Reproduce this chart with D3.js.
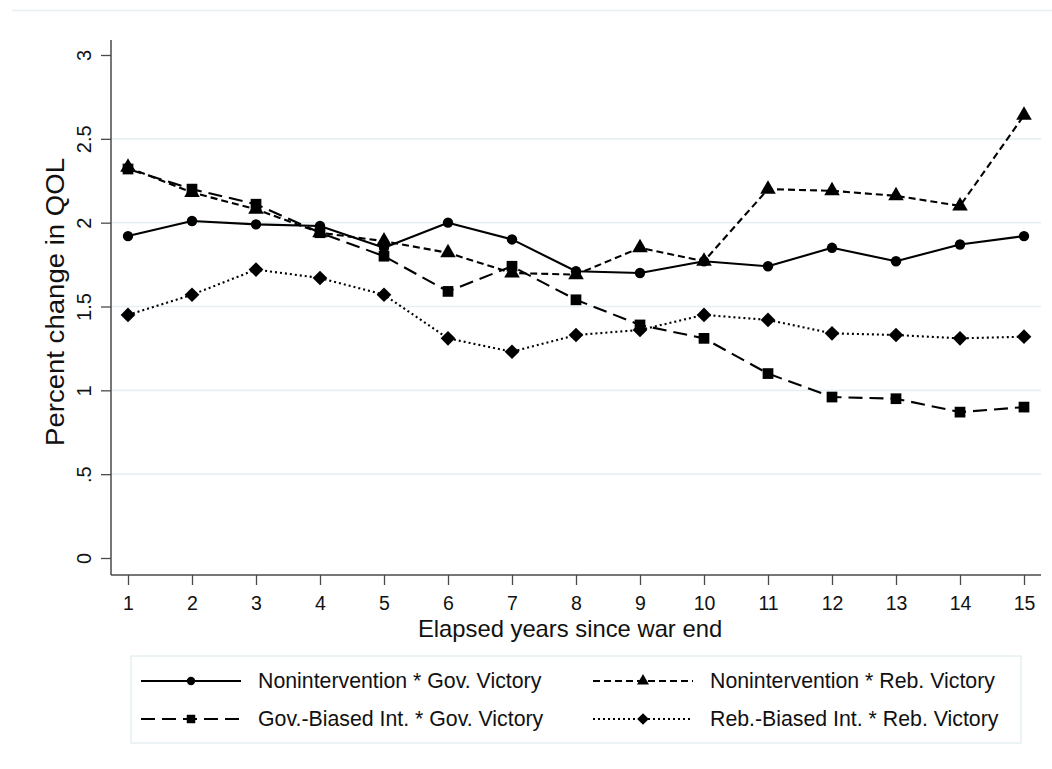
<!DOCTYPE html>
<html>
<head>
<meta charset="utf-8">
<script src="https://cdn.jsdelivr.net/npm/d3@7/dist/d3.min.js"></script>
<style>
  html, body { margin: 0; padding: 0; background: #fff; }
  svg { display: block; font-family: "Liberation Sans", Arial, Helvetica, sans-serif; }
</style>
</head>
<body>
<svg id="chart" width="1052" height="769"></svg>
<script>
// Years elapsed since the end of the war
const years = [1, 2, 3, 4, 5, 6, 7, 8, 9, 10, 11, 12, 13, 14, 15];

// Predicted percent change in quality of life, by intervention type and war outcome
const nonintGov = [1.92, 2.01, 1.99, 1.98, 1.85, 2.00, 1.90, 1.71, 1.70, 1.77, 1.74, 1.85, 1.77, 1.87, 1.92];
const nonintReb = [2.33, 2.18, 2.08, 1.94, 1.89, 1.82, 1.70, 1.69, 1.85, 1.77, 2.20, 2.19, 2.16, 2.10, 2.64];
const govBiasedGov = [2.32, 2.20, 2.11, 1.94, 1.80, 1.59, 1.74, 1.54, 1.39, 1.31, 1.10, 0.96, 0.95, 0.87, 0.90];
const rebBiasedReb = [1.45, 1.57, 1.72, 1.67, 1.57, 1.31, 1.23, 1.33, 1.36, 1.45, 1.42, 1.34, 1.33, 1.31, 1.32];

const seriesNames = [
  "Nonintervention * Gov. Victory",
  "Nonintervention * Reb. Victory",
  "Gov.-Biased Int. * Gov. Victory",
  "Reb.-Biased Int. * Reb. Victory"
];

// Axis ticks
const yTickValues = [0, 0.5, 1, 1.5, 2, 2.5, 3];
const yTickLabels = ["0", ".5", "1", "1.5", "2", "2.5", "3"];
const yGridValues = [0.5, 1, 1.5, 2, 2.5];

const xTitle = "Elapsed years since war end";
const yTitle = "Percent change in QOL";

// ---- drawing ----
const svg = d3.select("#chart");
const ink = "#111";
const axisInk = "#4a4a4a";
const gridInk = "#e6eff1";

const plot = { left: 111, right: 1041, top: 40, bottom: 575 };

const x = d3.scaleLinear().domain([1, 15]).range([128, 1024]);
const y = d3.scaleLinear().domain([0, 3]).range([558, 55]);

// outer region border (top edge)
svg.append("line")
  .attr("x1", 12).attr("x2", 1052).attr("y1", 10.5).attr("y2", 10.5)
  .attr("stroke", gridInk).attr("stroke-width", 1.5);

// horizontal grid
svg.append("g").selectAll("line").data(yGridValues).join("line")
  .attr("x1", plot.left).attr("x2", plot.right)
  .attr("y1", d => y(d)).attr("y2", d => y(d))
  .attr("stroke", gridInk).attr("stroke-width", 1.6);

// y axis
const yAxis = svg.append("g")
  .attr("transform", `translate(${plot.left},0)`)
  .call(d3.axisLeft(y).tickValues(yTickValues)
    .tickFormat((d, i) => yTickLabels[i]).tickSize(10).tickSizeOuter(0));
yAxis.select(".domain").remove();
yAxis.append("line")
  .attr("x1", 0).attr("x2", 0).attr("y1", plot.top).attr("y2", plot.bottom)
  .attr("stroke", axisInk).attr("stroke-width", 1.5);
yAxis.selectAll(".tick line").attr("stroke", axisInk).attr("stroke-width", 1.3);
yAxis.selectAll(".tick text")
  .attr("font-size", 20).attr("fill", ink)
  .attr("font-family", "Liberation Sans, Arial, sans-serif")
  .attr("text-anchor", "middle")
  .attr("dy", null)
  .attr("dominant-baseline", "central")
  .attr("x", null)
  .attr("transform", "translate(-27,0) rotate(-90)");

// x axis
const xAxis = svg.append("g")
  .attr("transform", `translate(0,${plot.bottom})`)
  .call(d3.axisBottom(x).tickValues(years).tickFormat(d3.format("d"))
    .tickSize(10).tickSizeOuter(0));
xAxis.select(".domain").remove();
xAxis.append("line")
  .attr("x1", plot.left).attr("x2", plot.right).attr("y1", 0).attr("y2", 0)
  .attr("stroke", axisInk).attr("stroke-width", 1.5);
xAxis.selectAll(".tick line").attr("stroke", axisInk).attr("stroke-width", 1.3);
xAxis.selectAll(".tick text")
  .attr("font-size", 19.5).attr("fill", ink)
  .attr("font-family", "Liberation Sans, Arial, sans-serif")
  .attr("y", 28).attr("dy", null).attr("dominant-baseline", "central");

// axis titles
svg.append("text")
  .attr("x", 570).attr("y", 628)
  .attr("text-anchor", "middle").attr("dominant-baseline", "central")
  .attr("font-size", 23.8).attr("fill", ink)
  .text(xTitle);

svg.append("text")
  .attr("transform", `translate(55,302) rotate(-90)`)
  .attr("text-anchor", "middle").attr("dominant-baseline", "central")
  .attr("font-size", 25).attr("fill", ink)
  .attr("textLength", 288).attr("lengthAdjust", "spacingAndGlyphs")
  .text(yTitle);

// series styles
const styles = [
  { values: nonintGov,    dash: null,    marker: "circle",   size: 85,  legendSize: 55 },
  { values: nonintReb,    dash: "7,4",   marker: "triangle", size: 105, legendSize: 62 },
  { values: govBiasedGov, dash: "14,7",  marker: "square",   size: 115, legendSize: 72 },
  { values: rebBiasedReb, dash: "2,3",   marker: "diamond",  size: 108, legendSize: 68 }
];
const symbolFor = {
  circle: d3.symbolCircle,
  triangle: d3.symbolTriangle,
  square: d3.symbolSquare,
  diamond: d3.symbolSquare   // rotated 45 degrees below
};
const rotFor = m => (m === "diamond" ? " rotate(45)" : "");

const line = d3.line().x((d, i) => x(years[i])).y(d => y(d));

const seriesG = svg.append("g");
styles.forEach(s => {
  const g = seriesG.append("g");
  g.append("path")
    .datum(s.values)
    .attr("d", line)
    .attr("fill", "none")
    .attr("stroke", "#000")
    .attr("stroke-width", 2.1)
    .attr("stroke-dasharray", s.dash)
    .attr("stroke-linejoin", "round");
  const sym = d3.symbol().type(symbolFor[s.marker]).size(s.size);
  g.selectAll("path.m").data(s.values).join("path")
    .attr("class", "m")
    .attr("d", sym)
    .attr("transform", (d, i) => `translate(${x(years[i])},${y(d)})${rotFor(s.marker)}`)
    .attr("fill", "#000");
});

// legend
const legend = svg.append("g");
legend.append("rect")
  .attr("x", 131).attr("y", 656).attr("width", 890).attr("height", 87)
  .attr("fill", "#fff").attr("stroke", gridInk).attr("stroke-width", 1.5);

const legendCols = [141, 593];
const legendRows = [681, 719];
styles.forEach((s, i) => {
  const cx = legendCols[i % 2];
  const cy = legendRows[Math.floor(i / 2)];
  const g = legend.append("g").attr("transform", `translate(${cx},${cy})`);
  g.append("line")
    .attr("x1", 0).attr("x2", 100).attr("y1", 0).attr("y2", 0)
    .attr("stroke", "#000").attr("stroke-width", 2.1)
    .attr("stroke-dasharray", s.dash);
  g.append("path")
    .attr("d", d3.symbol().type(symbolFor[s.marker]).size(s.legendSize))
    .attr("transform", `translate(50,0)${rotFor(s.marker)}`)
    .attr("fill", "#000");
  g.append("text")
    .attr("x", 117).attr("y", 0)
    .attr("dominant-baseline", "central")
    .attr("font-size", 21.3).attr("fill", ink)
    .text(seriesNames[i]);
});
</script>
</body>
</html>
